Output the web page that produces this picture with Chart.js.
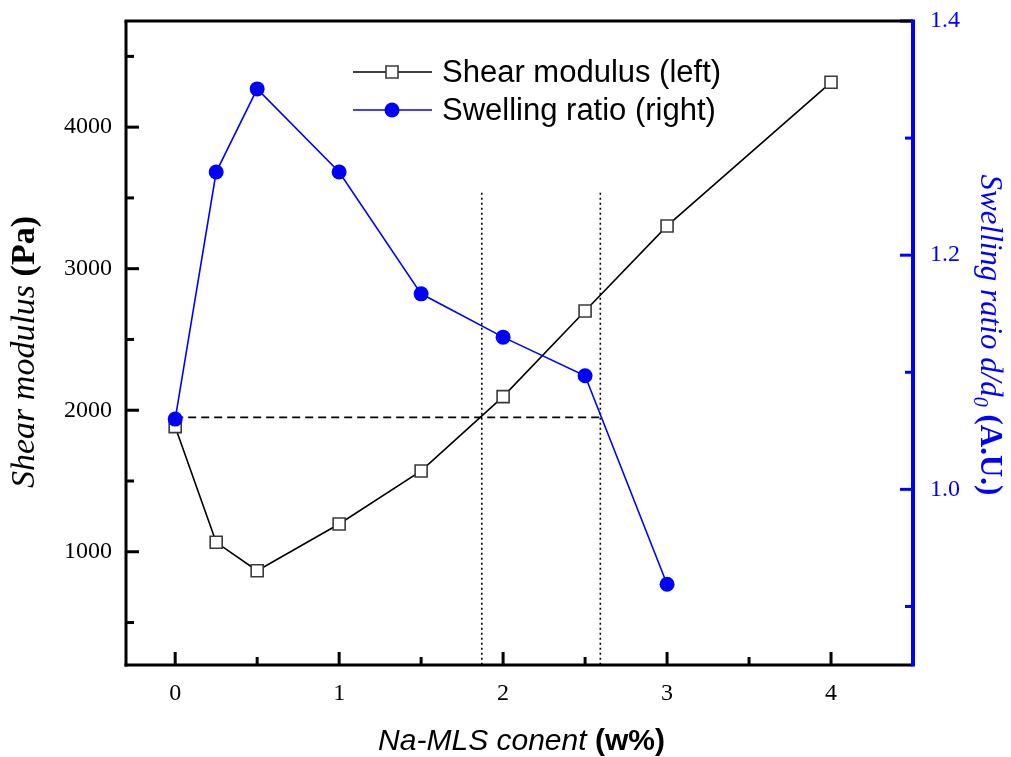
<!DOCTYPE html>
<html>
<head>
<meta charset="utf-8">
<script src="https://cdn.jsdelivr.net/npm/chart.js@4.4.1/dist/chart.umd.min.js"></script>
<style>
  html, body { margin: 0; padding: 0; background: #fff; }
</style>
</head>
<body>
<canvas id="swellChart" width="1011" height="757"></canvas>
<script>
// Na-MLS content (w%)
const content = [0, 0.25, 0.5, 1, 1.5, 2, 2.5, 3, 4];
// shear modulus, Pa (left axis)
const shearModulus = [1884, 1067, 866, 1196, 1571, 2096, 2701, 3302, 4317];
// swelling ratio d/d0 (right axis), no value at 4 w%
const swellContent = [0, 0.25, 0.5, 1, 1.5, 2, 2.5, 3];
const swellingRatio = [1.060, 1.271, 1.342, 1.271, 1.167, 1.130, 1.097, 0.919];

// guide lines: modulus level and the content window
const guideModulus = 1950;
const guideContent = [1.87, 2.593];
const guideTop = 3537;

// tick values
const xTicks = [0, 1, 2, 3, 4];
const xMinorTicks = [0.5, 1.5, 2.5, 3.5];
const leftTicks = [1000, 2000, 3000, 4000];
const leftMinorTicks = [500, 1500, 2500, 3500, 4500];
const rightTicks = [1.0, 1.2, 1.4];
const rightMinorTicks = [0.9, 1.1, 1.3];

const BLUE = '#0000ff';
const SERIF = '"Liberation Serif", "Times New Roman", serif';
const SANS = '"Liberation Sans", Arial, sans-serif';

function pairs(xs, ys) {
    return xs.map((x, i) => ({ x: x, y: ys[i] }));
}

// no extra room for labels hanging over the plot edges
function noOverflow(scale) {
    scale.paddingTop = 0;
    scale.paddingBottom = 0;
    scale.paddingLeft = 0;
    scale.paddingRight = 0;
}

// draws a row of text pieces with their own fonts, centred on (cx, cy)
function drawRuns(ctx, runs, cx, cy, angle, color) {
    ctx.save();
    ctx.translate(cx, cy);
    ctx.rotate(angle);
    ctx.fillStyle = color;
    ctx.textBaseline = 'alphabetic';
    ctx.textAlign = 'left';
    let total = 0;
    runs.forEach(r => {
        ctx.font = r.font;
        r.w = ctx.measureText(r.text).width;
        total += r.w;
    });
    let x = -total / 2;
    runs.forEach(r => {
        ctx.font = r.font;
        ctx.fillText(r.text, x, r.dy || 0);
        x += r.w;
    });
    ctx.restore();
}

// axis frame with inward tick marks
const frameAndTicks = {
    id: 'frameAndTicks',
    afterDatasetsDraw(chart) {
        const { ctx, chartArea: a, scales } = chart;
        ctx.save();
        ctx.lineCap = 'butt';

        function line(color, width, x1, y1, x2, y2) {
            ctx.strokeStyle = color;
            ctx.lineWidth = width;
            ctx.beginPath();
            ctx.moveTo(x1, y1);
            ctx.lineTo(x2, y2);
            ctx.stroke();
        }

        xTicks.forEach(v => {
            const px = scales.x.getPixelForValue(v);
            line('#000', 3, px, a.bottom, px, a.bottom - 13);
        });
        xMinorTicks.forEach(v => {
            const px = scales.x.getPixelForValue(v);
            line('#000', 3, px, a.bottom, px, a.bottom - 8);
        });
        leftTicks.forEach(v => {
            const py = scales.y.getPixelForValue(v);
            line('#000', 3, a.left, py, a.left + 13, py);
        });
        leftMinorTicks.forEach(v => {
            const py = scales.y.getPixelForValue(v);
            line('#000', 3, a.left, py, a.left + 8, py);
        });
        rightTicks.forEach(v => {
            const py = scales.y2.getPixelForValue(v);
            line(BLUE, 3, a.right, py, a.right - 13, py);
        });
        rightMinorTicks.forEach(v => {
            const py = scales.y2.getPixelForValue(v);
            line(BLUE, 3, a.right, py, a.right - 8, py);
        });

        line('#000', 3, a.left - 1.5, a.top, a.right, a.top);
        line('#000', 3, a.left - 1.5, a.bottom, a.right, a.bottom);
        line('#000', 3, a.left, a.top, a.left, a.bottom + 1.5);
        line(BLUE, 4, a.right, a.top - 1.5, a.right, a.bottom + 1.5);
        ctx.restore();
    },
    afterDraw(chart) {
        const { ctx, chartArea: a } = chart;

        // axis titles
        drawRuns(ctx, [
            { text: 'Na-MLS conent ', font: 'italic 30px ' + SANS },
            { text: '(w%)', font: 'bold 30px ' + SANS }
        ], (a.left + a.right) / 2 + 2, 750, 0, '#000');

        drawRuns(ctx, [
            { text: 'Shear modulus ', font: 'italic 34px ' + SERIF },
            { text: '(Pa)', font: 'bold 34px ' + SERIF }
        ], 34, 352, -Math.PI / 2, '#000');

        drawRuns(ctx, [
            { text: 'Swelling ratio d/d', font: 'italic 31px ' + SERIF },
            { text: '0', font: 'italic 20px ' + SERIF, dy: 7 },
            { text: ' (A.U.)', font: 'bold 31px ' + SERIF }
        ], 981, 335, Math.PI / 2, BLUE);

        // legend inside the plot
        [0, 1].forEach((idx, r) => {
            const ds = chart.data.datasets[idx];
            const y = 72 + r * 38;
            ctx.save();
            ctx.strokeStyle = ds.borderColor;
            ctx.lineWidth = ds.borderWidth;
            ctx.beginPath();
            ctx.moveTo(353, y);
            ctx.lineTo(432, y);
            ctx.stroke();
            ctx.fillStyle = ds.pointBackgroundColor;
            ctx.strokeStyle = ds.pointBorderColor;
            ctx.lineWidth = ds.pointBorderWidth;
            ctx.beginPath();
            if (ds.pointStyle === 'rect') {
                const s = ds.pointRadius * Math.SQRT1_2;
                ctx.rect(392 - s, y - s, 2 * s, 2 * s);
            } else {
                ctx.arc(392, y, ds.pointRadius, 0, Math.PI * 2);
            }
            ctx.fill();
            if (ds.pointBorderWidth > 0) ctx.stroke();
            ctx.fillStyle = '#000';
            ctx.font = '31px ' + SANS;
            ctx.textBaseline = 'middle';
            ctx.textAlign = 'left';
            ctx.fillText(ds.label, 442, y + 1);
            ctx.restore();
        });
    }
};

const ctx = document.getElementById('swellChart').getContext('2d');

new Chart(ctx, {
    type: 'line',
    data: {
        datasets: [
            {
                label: 'Shear modulus (left)',
                data: pairs(content, shearModulus),
                yAxisID: 'y',
                borderColor: '#000',
                borderWidth: 1.6,
                pointStyle: 'rect',
                pointRadius: 8.5,
                pointBackgroundColor: '#fff',
                pointBorderColor: '#3a3a3a',
                pointBorderWidth: 1.6,
                order: 1
            },
            {
                label: 'Swelling ratio (right)',
                data: pairs(swellContent, swellingRatio),
                yAxisID: 'y2',
                borderColor: BLUE,
                borderWidth: 1.6,
                pointStyle: 'circle',
                pointRadius: 7.5,
                pointBackgroundColor: BLUE,
                pointBorderColor: BLUE,
                pointBorderWidth: 0,
                order: 0
            },
            {
                label: 'modulus level',
                data: [{ x: 0, y: guideModulus }, { x: guideContent[1], y: guideModulus }],
                yAxisID: 'y',
                borderColor: '#000',
                borderWidth: 1.8,
                borderDash: [8, 5],
                pointRadius: 0,
                order: 2
            },
            {
                label: 'window low',
                data: [{ x: guideContent[0], y: guideTop }, { x: guideContent[0], y: 200 }],
                yAxisID: 'y',
                borderColor: '#000',
                borderWidth: 1.6,
                borderDash: [2, 3],
                pointRadius: 0,
                order: 2
            },
            {
                label: 'window high',
                data: [{ x: guideContent[1], y: guideTop }, { x: guideContent[1], y: 200 }],
                yAxisID: 'y',
                borderColor: '#000',
                borderWidth: 1.6,
                borderDash: [2, 3],
                pointRadius: 0,
                order: 2
            }
        ]
    },
    options: {
        responsive: false,
        animation: false,
        layout: { padding: { top: 21, left: 0, right: 0, bottom: 0 } },
        plugins: {
            legend: { display: false },
            tooltip: { enabled: false }
        },
        scales: {
            x: {
                type: 'linear',
                min: -0.3,
                max: 4.5,
                grid: { display: false, drawTicks: false },
                border: { display: false },
                afterBuildTicks: scale => { scale.ticks = xTicks.map(v => ({ value: v })); },
                afterFit: scale => { scale.height = 92; noOverflow(scale); },
                ticks: {
                    autoSkip: false,
                    maxRotation: 0,
                    padding: 14,
                    color: '#000',
                    font: { family: SERIF, size: 24 },
                    callback: v => String(v)
                }
            },
            y: {
                position: 'left',
                min: 200,
                max: 4750,
                grid: { display: false, drawTicks: false },
                border: { display: false },
                afterBuildTicks: scale => { scale.ticks = leftTicks.map(v => ({ value: v })); },
                afterFit: scale => { scale.width = 126; noOverflow(scale); },
                ticks: {
                    autoSkip: false,
                    padding: 14,
                    color: '#000',
                    font: { family: SERIF, size: 24 },
                    callback: v => String(v)
                }
            },
            y2: {
                position: 'right',
                min: 0.85,
                max: 1.4,
                grid: { display: false, drawTicks: false },
                border: { display: false },
                afterBuildTicks: scale => { scale.ticks = rightTicks.map(v => ({ value: v })); },
                afterFit: scale => { scale.width = 98; noOverflow(scale); },
                ticks: {
                    autoSkip: false,
                    padding: 17,
                    color: BLUE,
                    font: { family: SERIF, size: 24 },
                    callback: v => v.toFixed(1)
                }
            }
        }
    },
    plugins: [frameAndTicks]
});
</script>
</body>
</html>
